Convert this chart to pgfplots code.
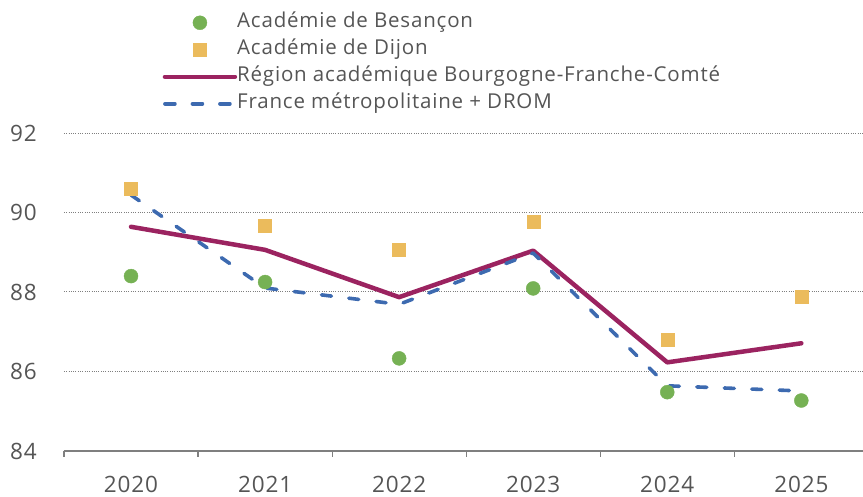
\documentclass[border=0pt]{standalone}
\usepackage{pgfplots}
\pgfplotsset{compat=1.18}
\usepackage{fontspec}
\setmainfont[LetterSpace=4]{Open Sans}
\usetikzlibrary{calc}

\definecolor{cgreen}{HTML}{76B154}
\definecolor{corange}{HTML}{EBBB5C}
\definecolor{cpurple}{HTML}{9B2360}
\definecolor{cblue}{HTML}{3D6AB0}
\definecolor{cgrid}{HTML}{7F7F7F}
\definecolor{ctext}{HTML}{555555}

\pgfplotsset{
  markleg/.style={legend image code/.code={\draw[##1] plot coordinates {(35pt,0pt)};}},
  lineleg/.style={legend image code/.code={\draw[##1] (0pt,0pt) -- (70pt,0pt);}},
}

\begin{document}
\begin{tikzpicture}
\begin{axis}[
  name=ax,
  scale only axis,
  width=799pt, height=318pt,
  xmin=-0.5, xmax=5.46,
  ymin=84, ymax=92,
  ytick={84,86,88,90,92},
  ymajorgrids,
  grid style={cgrid, line width=1pt, dash pattern=on 1pt off 1.3pt},
  axis x line*=bottom, axis y line*=left,
  y axis line style={draw=none},
  x axis line style={cgrid, line width=1.2pt, -},
  ytick style={draw=none},
  xtick={-0.5,0.5,1.5,2.5,3.5,4.5},
  xticklabels={},
  xtick style={cgrid, line width=1.2pt},
  tick align=outside,
  major tick length=6pt,
  extra x ticks={0,1,2,3,4,5},
  extra x tick labels={2020,2021,2022,2023,2024,2025},
  extra x tick style={major tick length=0pt, grid=none},
  /pgf/number format/assume math mode=true,
  ticklabel style={font=\fontsize{22.5}{24}\selectfont, text=ctext},
  yticklabel style={anchor=east, inner sep=0pt, xshift=-21pt},
  xticklabel style={anchor=north, inner sep=0pt, yshift=-25pt},
  clip=false,
  legend style={draw=none, fill=none,
    at={(axis description cs:0.1195,1.385)}, anchor=north west,
    font=\fontsize{20.5}{22}\selectfont, text=ctext,
    row sep=7pt,
    nodes={inner xsep=0pt, inner ysep=0pt, text height=15pt, text depth=5pt, xshift=13pt},
    legend cell align=left},
]
\addplot[only marks, mark=*, mark size=7pt, color=cgreen, markleg]
  coordinates {(0,88.40) (1,88.25) (2,86.33) (3,88.09) (4,85.48) (5,85.27)};
\addlegendentry{Académie de Besançon}
\addplot[only marks, mark=square*, mark size=6.5pt, color=corange,
  mark options={rounded corners=1.5pt}, markleg]
  coordinates {(0,90.61) (1,89.67) (2,89.06) (3,89.77) (4,86.79) (5,87.87)};
\addlegendentry{Académie de Dijon}
\addplot[color=cpurple, line width=4.5pt, line cap=round, line join=round, mark=none, lineleg]
  coordinates {(0,89.64) (1,89.06) (2,87.87) (3,89.04) (4,86.23) (5,86.71)};
\addlegendentry{Région académique Bourgogne-Franche-Comté}
\addplot[color=cblue, line width=3.6pt, line cap=round, line join=round, mark=none,
  dash pattern=on 10pt off 17.5pt, lineleg]
  coordinates {(0,90.44) (1,88.10) (2,87.69) (3,88.98) (4,85.64) (5,85.51)};
\addlegendentry{France métropolitaine + DROM}
\end{axis}
\pgfresetboundingbox
\path[use as bounding box] ($(ax.south west)+(-64pt,-46pt)$) rectangle ($(ax.north east)+(0pt,133pt)$);
\end{tikzpicture}
\end{document}
